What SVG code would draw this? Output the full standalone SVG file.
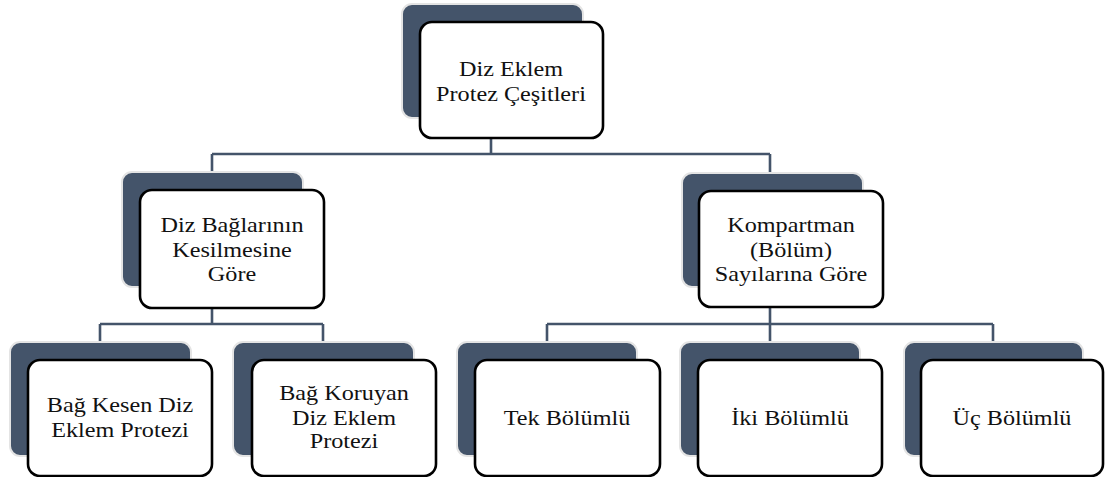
<svg xmlns="http://www.w3.org/2000/svg" width="1105" height="477" viewBox="0 0 1105 477">
<style>
.sh{fill:#44546A;stroke:#E4E4E4;stroke-width:2}
.bx{fill:#FFFFFF;stroke:#000000;stroke-width:2.6}
.c{fill:none;stroke:#44546A;stroke-width:2.6}
text{font-family:'Liberation Serif','Times New Roman',serif;font-size:22px;fill:#111111;text-anchor:middle}
</style>
<rect width="1105" height="477" fill="#FFFFFF"/>
<g id="connectors">
<path class="c" d="M491,138V154M212,154H770M212,154V172M770,154V173"/>
<path class="c" d="M212,308V324M100,324H323M100,324V342M323,324V342"/>
<path class="c" d="M770,307V324M547,324H993M547,324V342M770,324V342M993,324V342"/>
</g>
<g id="n-root">
<rect class="sh" x="402" y="4" width="181" height="114" rx="10"/>
<rect class="bx" x="420" y="22" width="183" height="116" rx="12"/>
<text transform="translate(511,0) scale(1.1,1)"><tspan x="0" y="76">Diz Eklem</tspan><tspan x="0" y="101">Protez Çeşitleri</tspan></text>
</g>
<g id="n-bag">
<rect class="sh" x="122" y="172" width="181" height="115" rx="10"/>
<rect class="bx" x="140" y="190" width="184" height="118" rx="12"/>
<text transform="translate(232,0) scale(1.1,1)"><tspan x="0" y="232">Diz Bağlarının</tspan><tspan x="0" y="257">Kesilmesine</tspan><tspan x="0" y="281">Göre</tspan></text>
</g>
<g id="n-komp">
<rect class="sh" x="682" y="173" width="181" height="114" rx="10"/>
<rect class="bx" x="699" y="191" width="184" height="116" rx="12"/>
<text transform="translate(791,0) scale(1.1,1)"><tspan x="0" y="232">Kompartman</tspan><tspan x="0" y="257">(Bölüm)</tspan><tspan x="0" y="281">Sayılarına Göre</tspan></text>
</g>
<g id="n-kesen">
<rect class="sh" x="10" y="342" width="181" height="114" rx="10"/>
<rect class="bx" x="28" y="360" width="184" height="116" rx="12"/>
<text transform="translate(120,0) scale(1.1,1)"><tspan x="0" y="412">Bağ Kesen Diz</tspan><tspan x="0" y="437">Eklem Protezi</tspan></text>
</g>
<g id="n-koruyan">
<rect class="sh" x="233" y="342" width="181" height="114" rx="10"/>
<rect class="bx" x="252" y="360" width="184" height="116" rx="12"/>
<text transform="translate(344,0) scale(1.1,1)"><tspan x="0" y="400">Bağ Koruyan</tspan><tspan x="0" y="425">Diz Eklem</tspan><tspan x="0" y="448">Protezi</tspan></text>
</g>
<g id="n-tek">
<rect class="sh" x="457" y="342" width="180" height="114" rx="10"/>
<rect class="bx" x="475" y="360" width="185" height="116" rx="12"/>
<text transform="translate(567,0) scale(1.1,1)" x="0" y="425">Tek Bölümlü</text>
</g>
<g id="n-iki">
<rect class="sh" x="680" y="342" width="180" height="114" rx="10"/>
<rect class="bx" x="698" y="360" width="184" height="116" rx="12"/>
<text transform="translate(790,0) scale(1.1,1)" x="0" y="425">İki Bölümlü</text>
</g>
<g id="n-uc">
<rect class="sh" x="904" y="342" width="179" height="114" rx="10"/>
<rect class="bx" x="921" y="360" width="182" height="116" rx="12"/>
<text transform="translate(1012,0) scale(1.1,1)" x="0" y="425">Üç Bölümlü</text>
</g>
</svg>
